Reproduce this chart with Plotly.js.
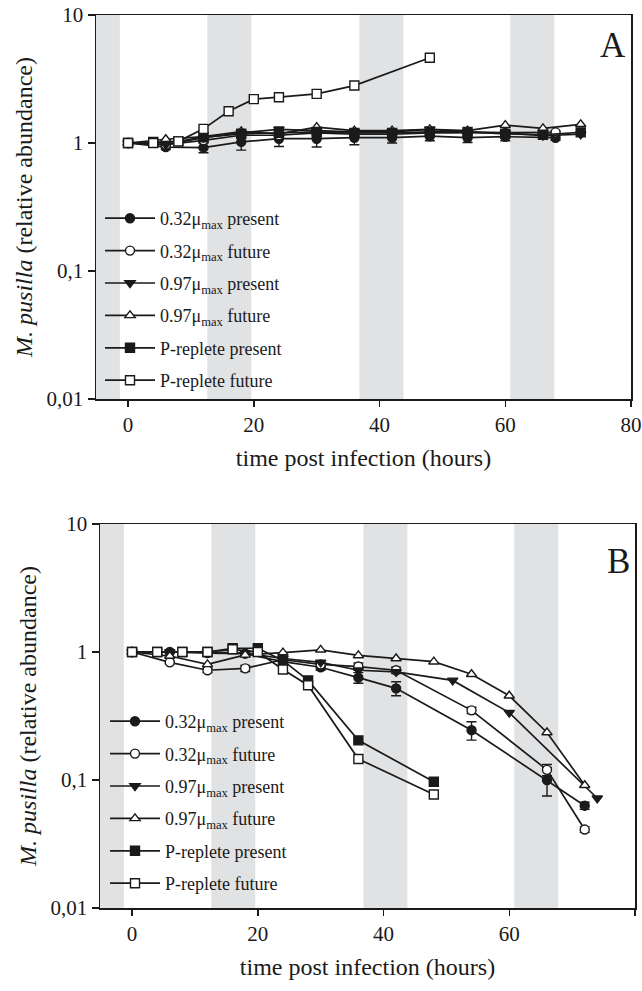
<!DOCTYPE html>
<html><head><meta charset="utf-8">
<script src="https://cdn.plot.ly/plotly-3.0.1.min.js"></script>
<style>html,body{margin:0;padding:0;background:#fff}#chart{width:642px;height:991px}</style>
</head><body><div id="chart"></div>
<script>
// ---- categories / labels ----
const seriesNames = ['0.32μ<sub>max</sub> present','0.32μ<sub>max</sub> future','0.97μ<sub>max</sub> present','0.97μ<sub>max</sub> future','P-replete present','P-replete future'];
const xTickVals = [0,20,40,60,80];
const yTickVals = [0.01,0.1,1,10];
const yTickText = ['0,01','0,1','1','10'];
const darkStart = [-5.1,12.6,36.8,60.8];
const darkEnd = [-1.3,19.6,43.8,67.8];

// ---- Panel A ----
const aT032p = [0,6,12,18,24,30,36,42,48,54,60,68];
const aY032p = [1,0.93,0.92,1.02,1.08,1.08,1.1,1.1,1.13,1.1,1.12,1.1];
const aE032p = [0,0.04,0.08,0.14,0.14,0.15,0.13,0.1,0.09,0.09,0.08,0.05];
const aT032f = [0,6,12,18,24,30,36,42,48,54,60,68];
const aY032f = [1,0.97,1.05,1.15,1.15,1.2,1.17,1.17,1.2,1.2,1.2,1.21];
const aE032f = [0,0.03,0.04,0.04,0.04,0.04,0.04,0.04,0.04,0.04,0.04,0.03];
const aT097p = [0,6,12,18,24,30,36,42,48,54,60,66,72];
const aY097p = [1,0.97,1.1,1.2,1.28,1.25,1.22,1.22,1.28,1.22,1.2,1.14,1.17];
const aT097f = [0,6,12,18,24,30,36,42,48,54,60,66,72];
const aY097f = [1,1.07,1.12,1.23,1.18,1.33,1.25,1.25,1.28,1.25,1.38,1.3,1.4];
const aTPp = [0,4,8,12,18,24,30,36,42,48,54,60,66,72];
const aYPp = [1,1.02,1.03,1.11,1.18,1.2,1.22,1.2,1.2,1.22,1.22,1.18,1.16,1.21];
const aTPf = [0,4,8,12,16,20,24,30,36,48];
const aYPf = [1,1.0,1.03,1.29,1.77,2.2,2.28,2.42,2.81,4.63];

// ---- Panel B ----
const bT032p = [0,6,12,18,24,30,36,42,54,66,72];
const bY032p = [1,1.0,0.98,0.97,0.84,0.76,0.63,0.52,0.245,0.10,0.063];
const bE032p = [0,0.02,0.03,0.03,0.04,0.04,0.06,0.065,0.04,0.025,0.004];
const bT032f = [0,6,12,18,24,30,36,42,54,66,72];
const bY032f = [1,0.83,0.72,0.745,0.87,0.80,0.77,0.72,0.35,0.12,0.041];
const bE032f = [0,0.02,0.03,0.04,0.03,0.03,0.05,0.04,0.02,0.012,0.002];
const bT097p = [0,6,12,18,24,30,36,42,51,60,74];
const bY097p = [1,1.0,1.0,0.98,0.89,0.83,0.72,0.70,0.60,0.336,0.072];
const bT097f = [0,6,12,18,24,30,36,42,48,54,60,66,72];
const bY097f = [1,0.93,0.8,0.95,0.99,1.04,0.94,0.89,0.84,0.67,0.455,0.235,0.091];
const bTPp = [0,4,8,12,16,20,24,28,36,48];
const bYPp = [1,1.0,1.0,1.0,1.07,1.07,0.86,0.60,0.204,0.097];
const bTPf = [0,4,8,12,16,20,24,28,36,48];
const bYPf = [1,1.0,1.0,1.0,1.05,1.0,0.73,0.55,0.146,0.077];

const FONT = 'Liberation Serif';
const INK = '#1a1a1a';
const styles = [
  {symbol:'circle', color:INK},
  {symbol:'circle', color:'#ffffff'},
  {symbol:'triangle-down', color:INK},
  {symbol:'triangle-up', color:'#ffffff'},
  {symbol:'square', color:INK},
  {symbol:'square', color:'#ffffff'}
];

function mk(i, x, y, err, panel){
  const t = {
    type:'scatter', mode:'lines+markers', x:x, y:y, name:seriesNames[i],
    xaxis: panel===0?'x':'x2', yaxis: panel===0?'y':'y2',
    legend: panel===0?'legend':'legend2',
    legendgroup: 'p'+panel+'s'+i,
    line:{color:INK, width:1.7},
    marker:{symbol:styles[i].symbol, color:styles[i].color, size:9, line:{color:INK, width:1.4}},
    hoverinfo:'skip'
  };
  if (err) t.error_y = {type:'data', array:err, visible:true, color:INK, thickness:1.4, width:5};
  return t;
}

const data = [
  mk(0,aT032p,aY032p,aE032p,0), mk(1,aT032f,aY032f,aE032f,0), mk(2,aT097p,aY097p,null,0),
  mk(3,aT097f,aY097f,null,0), mk(4,aTPp,aYPp,null,0), mk(5,aTPf,aYPf,null,0),
  mk(0,bT032p,bY032p,bE032p,1), mk(1,bT032f,bY032f,bE032f,1), mk(2,bT097p,bY097p,null,1),
  mk(3,bT097f,bY097f,null,1), mk(4,bTPp,bYPp,null,1), mk(5,bTPf,bYPf,null,1)
];

const W = 642, H = 991;
function xax(l, r, anchor){
  return {domain:[l/W, r/W], range:[-5.1,80], tickvals:xTickVals, ticks:'outside', ticklen:6, tickwidth:1.5,
    tickcolor:INK, showline:true, linecolor:INK, linewidth:1.5, mirror:true, showgrid:false, zeroline:false,
    tickfont:{size:21, family:FONT, color:INK}, anchor:anchor,
    title:{text:'time post infection (hours)', font:{size:24, family:FONT, color:INK}, standoff:13}};
}
function yax(top, bot, anchor){
  return {domain:[1-bot/H, 1-top/H], type:'log', range:[-2,1], tickvals:yTickVals, ticktext:yTickText,
    ticks:'outside', ticklen:7, tickwidth:1.5, tickcolor:INK, showline:true, linecolor:INK, linewidth:1.5,
    mirror:true, showgrid:false, zeroline:false, tickfont:{size:21, family:FONT, color:INK}, anchor:anchor,
    title:{text:'<i>M. pusilla</i> (relative abundance)', font:{size:24, family:FONT, color:INK}, standoff:7}};
}

const shapes = [];
['x','x2'].forEach((xr, p) => {
  for (let i=0;i<darkStart.length;i++){
    shapes.push({type:'rect', xref:xr, yref:(p===0?'y':'y2')+' domain', x0:darkStart[i], x1:darkEnd[i], y0:0, y1:1,
      fillcolor:'#e1e2e4', line:{width:0}, layer:'below'});
  }
});

const legendBase = {xanchor:'left', yanchor:'top', bgcolor:'rgba(0,0,0,0)', borderwidth:0,
  font:{size:18, family:FONT, color:INK}, itemwidth:50, tracegroupgap:6};

const layout = {
  width:W, height:H, margin:{l:0,r:0,t:0,b:0}, paper_bgcolor:'#fff', plot_bgcolor:'#fff',
  font:{family:FONT, color:INK},
  showlegend:true,
  xaxis: xax(96,631,'y'), yaxis: yax(15,399,'x'),
  xaxis2: xax(100,635,'y2'), yaxis2: yax(524,908,'x2'),
  legend: Object.assign({x:100/W, y:1-200/H}, legendBase),
  legend2: Object.assign({x:105/W, y:1-703/H}, legendBase),
  shapes: shapes,
  annotations:[
    {text:'A', xref:'paper', yref:'paper', x:613/W, y:1-45/H, xanchor:'center', yanchor:'middle', showarrow:false, font:{size:35, family:FONT, color:INK}},
    {text:'B', xref:'paper', yref:'paper', x:618/W, y:1-561/H, xanchor:'center', yanchor:'middle', showarrow:false, font:{size:35, family:FONT, color:INK}}
  ]
};

Plotly.newPlot('chart', data, layout, {staticPlot:true, displayModeBar:false});
</script></body></html>
